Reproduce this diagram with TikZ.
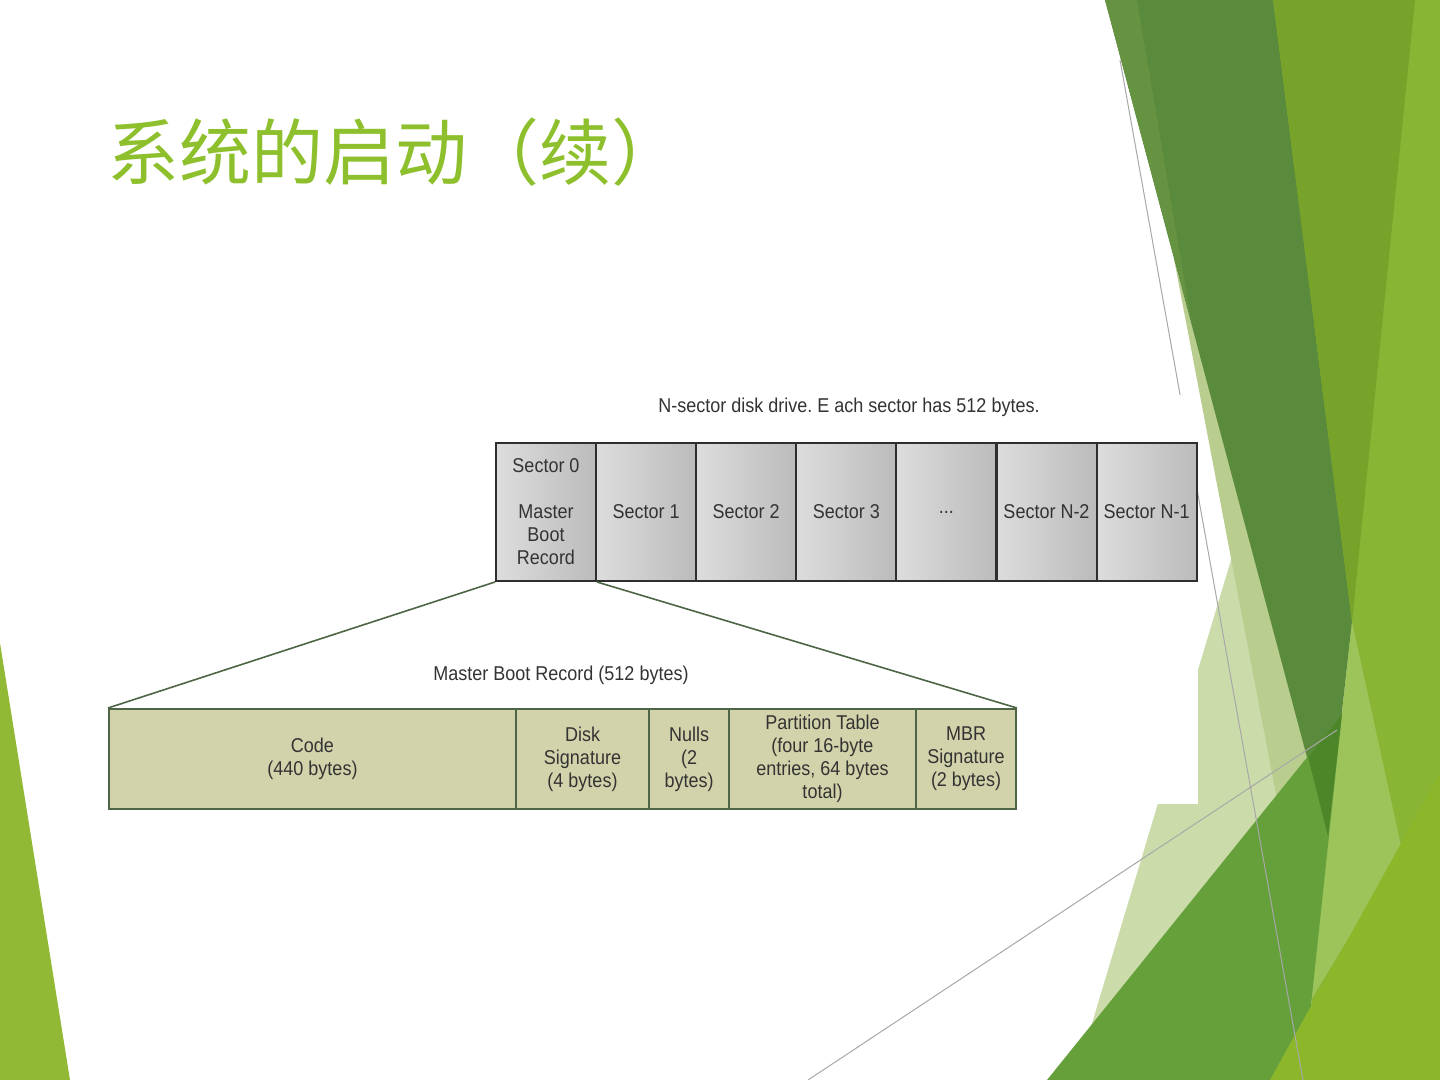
\documentclass[tikz,border=0pt]{standalone}
\usepackage{fontspec}
\usetikzlibrary{positioning}
\newfontfamily\cjkfont{Noto Sans CJK SC}
\newfontfamily\diagfont[FakeStretch=0.9]{Liberation Sans}
\frenchspacing
\newcommand\sectordots{...}
\definecolor{ctitle}{HTML}{8DC02C}
\definecolor{ctext}{HTML}{333333}
\definecolor{cframe}{HTML}{2E2E2E}
\definecolor{cboxl}{HTML}{DDDDDD}
\definecolor{cboxr}{HTML}{BBBBBB}
\definecolor{ckhaki}{HTML}{D3D3AB}
\definecolor{colive}{HTML}{4E6645}
\definecolor{cguide}{HTML}{A8A8A8}
% slide decoration greens
\definecolor{gdark}{HTML}{5A8A3B}
\definecolor{gdarkband}{HTML}{669342}
\definecolor{gmid}{HTML}{78A32B}
\definecolor{gright}{HTML}{88B534}
\definecolor{gmedium}{HTML}{65A03B}
\definecolor{goverlap}{HTML}{4C8629}
\definecolor{gpale}{HTML}{CCDBAA}
\definecolor{gpaleband}{HTML}{B9CD8F}
\definecolor{glight}{HTML}{9DC35B}
\definecolor{gyellow}{HTML}{8DB72A}
\definecolor{gleft}{HTML}{92B935}
\tikzset{
  sector/.style={draw=cframe, line width=1pt, left color=cboxl, right color=cboxr,
    minimum width=50pt, minimum height=69pt, inner sep=0pt, align=center, text=ctext},
  mbrpart/.style={draw=colive, line width=1pt, fill=ckhaki, minimum height=50pt,
    inner sep=0pt, align=center, text=ctext},
  caption/.style={text=ctext, inner sep=0pt},
  zoomline/.style={draw=colive, line width=0.8pt},
  guide/.style={draw=cguide, line width=0.5pt},
}

\begin{document}
\begin{tikzpicture}[x=0.5pt, y=-0.5pt,
  every node/.append style={font=\diagfont\fontsize{10}{11.5}\selectfont}]
  \useasboundingbox (0,0) rectangle (1440,1080);
  \fill[white] (0,0) rectangle (1440,1080);

  % decoration on the right
  \fill[gright] (1273,0) -- (1440,0) -- (1440,1080) -- (1250,1080) -- cycle;
  \fill[gpale] (1270,430) -- (1075,1080) -- (1303,1080) -- (1352,622) -- cycle;
  \fill[gpaleband] (1174,259) -- (1300,920) -- (1330,836) -- cycle;
  \fill[gdark] (1105,0) -- (1273,0) -- (1352,622) -- (1328,836) -- cycle;
  \fill[gdarkband] (1105,0) -- (1137,0) -- (1191,320) -- cycle;
  \fill[gmid] (1273,0) -- (1415,0) -- (1352,622) -- cycle;
  \fill[glight] (1352,622) -- (1402,850) -- (1311,1000) -- cycle;
  \fill[gmedium] (1047,1080) -- (1342,714) -- (1303,1080) -- cycle;
  \fill[goverlap] (1308,757) -- (1342,714) -- (1328,836) -- cycle;
  \fill[gyellow] (1270,1080) -- (1440,1080) -- (1440,773) -- cycle;
  \draw[guide] (1120,60) -- (1303,1080);
  \draw[guide] (808,1080) -- (1337,730);

  % decoration on the left
  \fill[gleft] (0,643) -- (0,1080) -- (70,1080) -- cycle;

  % title
  \node[anchor=base west, inner sep=0pt, text=ctitle,
    font=\cjkfont\fontsize{36}{40}\selectfont] (title) at (107,180) {系统的启动（续）};

  % diagram background
  \fill[white] (100,395) rectangle (1198,804);

  \node[caption] (diskcap) at (849,407) {N-sector disk drive. E ach sector has 512 bytes.};
  \foreach \lbl [count=\i from 0] in {{Sector 0\\[11.5pt]Master\\Boot\\Record},
      Sector 1, Sector 2, Sector 3, \sectordots, Sector N-2, Sector N-1}
    \node[sector] (sec\i) at ({546+100.1*\i},512) {\lbl};

  \node[caption] (mbrcap) at (561,675) {Master Boot Record (512 bytes)};
  \node[mbrpart, minimum width=203.5pt] (code) at (312.5,759) {Code\\(440 bytes)};
  \node[mbrpart, minimum width=66.5pt] (dsig) at (582.5,759) {Disk\\Signature\\(4 bytes)};
  \node[mbrpart, minimum width=40pt] (nulls) at (689,759) {Nulls\\(2\\bytes)};
  \node[mbrpart, minimum width=93.5pt] (ptab) at (822.5,759)
    {Partition Table\\(four 16-byte\\entries, 64 bytes\\total)};
  \node[mbrpart, minimum width=50pt] (msig) at (966,759) {MBR\\Signature\\(2 bytes)};

  \draw[zoomline] (sec0.south west) -- (code.north west);
  \draw[zoomline] (sec0.south east) -- (msig.north east);
\end{tikzpicture}
\end{document}
